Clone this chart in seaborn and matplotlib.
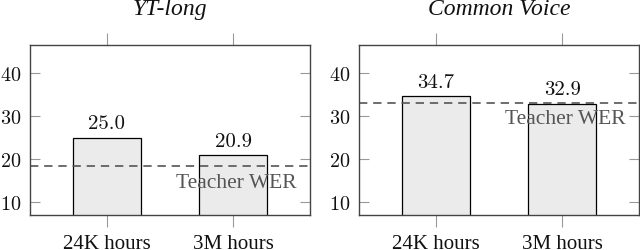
import matplotlib
matplotlib.use("Agg")
import matplotlib.pyplot as plt
import seaborn as sns
import pandas as pd

categories = ["24K hours", "3M hours"]
titles = ["YT-long", "Common Voice"]
yt_long_wer = [25.0, 20.9]
common_voice_wer = [34.7, 32.9]
teacher_wer = [18.5, 33.2]
yticks = [10, 20, 30, 40]

sns.set_theme(style="white")
plt.rcParams["font.family"] = ["cmr10", "DejaVu Serif"]
plt.rcParams["mathtext.fontset"] = "cm"
plt.rcParams["axes.formatter.use_mathtext"] = True

TIMES = ["Liberation Serif", "DejaVu Serif"]

fig = plt.figure(figsize=(6.4, 2.51), dpi=100)
W, H = 640, 251
axes_px = [(30, 46, 280, 170), (359, 46, 280, 170)]
series = [yt_long_wer, common_voice_wer]

for i in range(2):
    x0, y0, w, h = axes_px[i]
    ax = fig.add_axes([x0 / W, (H - y0 - h) / H, w / W, h / H])
    df = pd.DataFrame({"cat": categories, "wer": series[i]})
    sns.barplot(data=df, x="cat", y="wer", ax=ax, color="#ebebeb",
                edgecolor="black", linewidth=0.9, width=0.535, saturation=1)
    ax.set_xlim(-0.605, 1.605)
    ax.set_ylim(7.0, 46.6)
    ax.set_yticks(yticks)
    ax.set_xlabel("")
    ax.set_ylabel("")
    for p, v in zip(ax.patches, series[i]):
        ax.annotate(f"{v:.1f}", (p.get_x() + p.get_width() / 2, v),
                    xytext=(0, 4), textcoords="offset points",
                    ha="center", va="bottom", fontsize=15, color="#111111")
    ax.axhline(teacher_wer[i], color="#555555", linestyle=(0, (5, 3.5)), linewidth=1.2)
    ax.annotate("Teacher WER", (1.5, teacher_wer[i]), xytext=(0, -5),
                textcoords="offset points", ha="right", va="top",
                fontsize=15.5, color="#555555", family=TIMES)
    ax.text(0.5, 1.215, titles[i], transform=ax.transAxes, ha="center",
            va="center", fontsize=17, color="#111111", family=TIMES, style="italic")
    for s in ax.spines.values():
        s.set_color("#444444")
        s.set_linewidth(1.0)
    ax.tick_params(axis="x", direction="out", length=8.5, width=0.8, color="#999999",
                   top=True, bottom=True, labelsize=15, pad=5, labelcolor="#111111")
    ax.tick_params(axis="y", direction="in", length=7.5, width=0.8, color="#999999",
                   left=True, right=True, labelsize=14.5, pad=6, labelcolor="#111111")
    for lab in ax.get_xticklabels():
        lab.set_family(TIMES)

fig.savefig("out.png", dpi=100)
